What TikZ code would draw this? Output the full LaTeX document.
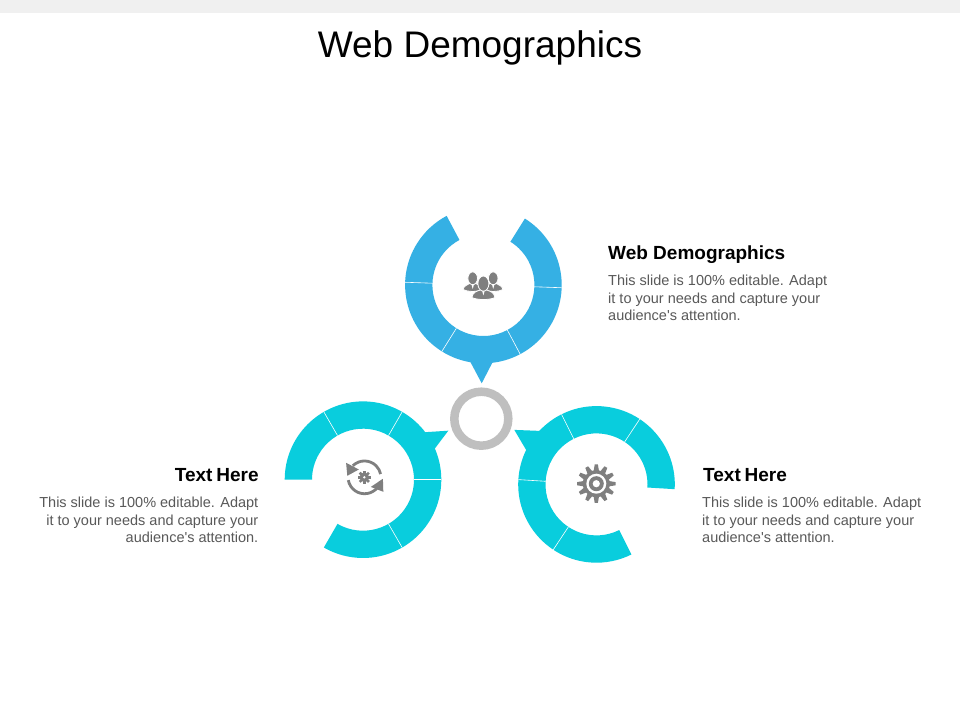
\documentclass[tikz,border=0pt]{standalone}
\usepackage{fontspec}
\setmainfont{Liberation Sans}[Ligatures=TeXOff]
\definecolor{bluec}{HTML}{35B0E4}
\definecolor{tealc}{HTML}{09CDDD}
\definecolor{ringg}{HTML}{BFBFBF}
\definecolor{icong}{HTML}{7F7F7F}
\definecolor{bodyg}{HTML}{595959}
\definecolor{topband}{HTML}{F0F0F0}
\tikzset{
  titletext/.style={font=\fontsize{37}{40}\selectfont,text=black,inner sep=0pt},
  headtext/.style={font=\bfseries\fontsize{19}{22}\selectfont,text=black,inner sep=0pt},
  bodytext/.style={font=\fontsize{14.5}{16}\selectfont,text=bodyg,inner sep=0pt},
  sep/.style={draw=white,line width=0.6pt}
}
% #1 colour, #2 start angle, #3 end angle
\newcommand{\ringband}[3]{%
  \fill[#1] (#2:78.3pt) arc[start angle=#2,end angle=#3,radius=78.3pt]
    -- (#3:51pt) arc[start angle=#3,end angle=#2,radius=51pt] -- cycle;}
% #1,#2 centre of the body's base; #3 half width; #4 height of body; #5,#6 head radii
\newcommand{\person}[6]{%
  \begin{scope}[shift={(#1,#2)}]
    \fill[icong,draw=white,line width=0.8pt] (-#3,0.5)
       .. controls (-#3+1,#4-2.5) and (-#3+4,#4-1.5) .. (-3.2,#4)
       -- (3.2,#4) .. controls (#3-4,#4-1.5) and (#3-1,#4-2.5) .. (#3,0.5)
       .. controls (#3-5,-2.2) and (-#3+5,-2.2) .. (-#3,0.5) -- cycle;
    \fill[white] (-1.5,#4) -- (1.5,#4) -- (0,#4-5.5) -- cycle;
    \fill[icong,draw=white,line width=0.8pt] (0,#4+#6-1.2) ellipse[x radius=#5pt,y radius=#6pt];
  \end{scope}}
\begin{document}
\begin{tikzpicture}[x=1pt,y=1pt]
\useasboundingbox (0,0) rectangle (960,720);
\fill[white] (0,0) rectangle (960,720);
\fill[topband] (0,706.5) rectangle (960,720);

% blue ring
\begin{scope}[shift={(483.4,435)}]
  \fill[bluec] (-13,-77) -- (-1.7,-98.3) -- (9.3,-77) -- cycle;
  \ringband{bluec}{58}{-242}
  \foreach \a in {-2,-62,-122,-182} \draw[sep] (\a:51pt) -- (\a:78.3pt);
\end{scope}
% left ring
\begin{scope}[shift={(363,240.3)}]
  \fill[tealc] (62,47.5) -- (85.3,49) -- (71,30) -- cycle;
  \ringband{tealc}{180}{-120}
  \foreach \a in {120,60,0,-60} \draw[sep] (\a:51pt) -- (\a:78.3pt);
\end{scope}
% right ring
\begin{scope}[shift={(596.5,235.6)}]
  \fill[tealc] (-56.5,53.5) -- (-82.2,54.5) -- (-69.8,33.5) -- cycle;
  \ringband{tealc}{-3.5}{296.5}
  \foreach \a in {56.5,116.5,176.5,236.5} \draw[sep] (\a:51pt) -- (\a:78.3pt);
\end{scope}
% grey ring
\draw[ringg,line width=8.5pt] (481.3,301.3) circle[radius=27pt];

% people icon
\person{472.7}{430}{9.8}{6.5}{4.8}{6.4}
\person{493.2}{430}{9.8}{6.5}{4.8}{6.4}
\person{483.4}{422}{11.6}{8}{5.5}{7.6}

% recycle icon
\begin{scope}[shift={(364.3,242.7)}]
  \draw[icong,line width=2.8pt] (-11.5,11.5) arc[start angle=135,end angle=12,radius=16.5pt];
  \draw[icong,line width=2.8pt] (-16,-2.8) arc[start angle=190,end angle=320,radius=16.5pt];
  \fill[icong] (-18.2,14.5) -- (-17,1.5) -- (-5.5,7.8) -- cycle;
  \fill[icong] (18.6,-1.5) -- (19,-14.5) -- (6.5,-9.6) -- cycle;
  \foreach \a in {0,45,...,315} \fill[icong,rotate=\a] (-1.3,3.5) rectangle (1.3,6.5);
  \fill[icong] (0,0) circle[radius=4.8pt];
  \fill[white] (0,0) circle[radius=1.3pt];
\end{scope}

% gear icon
\begin{scope}[shift={(596.3,236.3)}]
  \foreach \a in {0,30,...,330} \fill[icong,rotate=\a] (-2.7,12.5) -- (-1.6,19.2) -- (1.6,19.2) -- (2.7,12.5) -- cycle;
  \fill[icong] (0,0) circle[radius=13.5pt];
  \fill[white] (0,0) circle[radius=10pt];
  \fill[icong] (0,0) circle[radius=7.5pt];
  \fill[white] (0,0) circle[radius=3.6pt];
\end{scope}

% texts
\node[titletext] (title) at (480,672.5) {Web Demographics};
\node[headtext,anchor=base west] (h1) at (608,460.5) {Web Demographics};
\node[bodytext,anchor=base west] (a1) at (608,434) {This slide is 100\% editable. Adapt};
\node[bodytext,anchor=base west] (a2) at (608,416.5) {it to your needs and capture your};
\node[bodytext,anchor=base west] (a3) at (608,399) {audience's attention.};
\node[headtext,anchor=base east] (h2) at (258.8,238.5) {Text\hspace{0.2em}Here};
\node[bodytext,anchor=base east] (b1) at (258.5,212) {This slide is 100\% editable. Adapt};
\node[bodytext,anchor=base east] (b2) at (258.5,194.5) {it to your needs and capture your};
\node[bodytext,anchor=base east] (b3) at (258.5,177) {audience's attention.};
\node[headtext,anchor=base west] (h3) at (703,238.5) {Text\hspace{0.2em}Here};
\node[bodytext,anchor=base west] (c1) at (702,212) {This slide is 100\% editable. Adapt};
\node[bodytext,anchor=base west] (c2) at (702,194.5) {it to your needs and capture your};
\node[bodytext,anchor=base west] (c3) at (702,177) {audience's attention.};
\end{tikzpicture}
\end{document}
